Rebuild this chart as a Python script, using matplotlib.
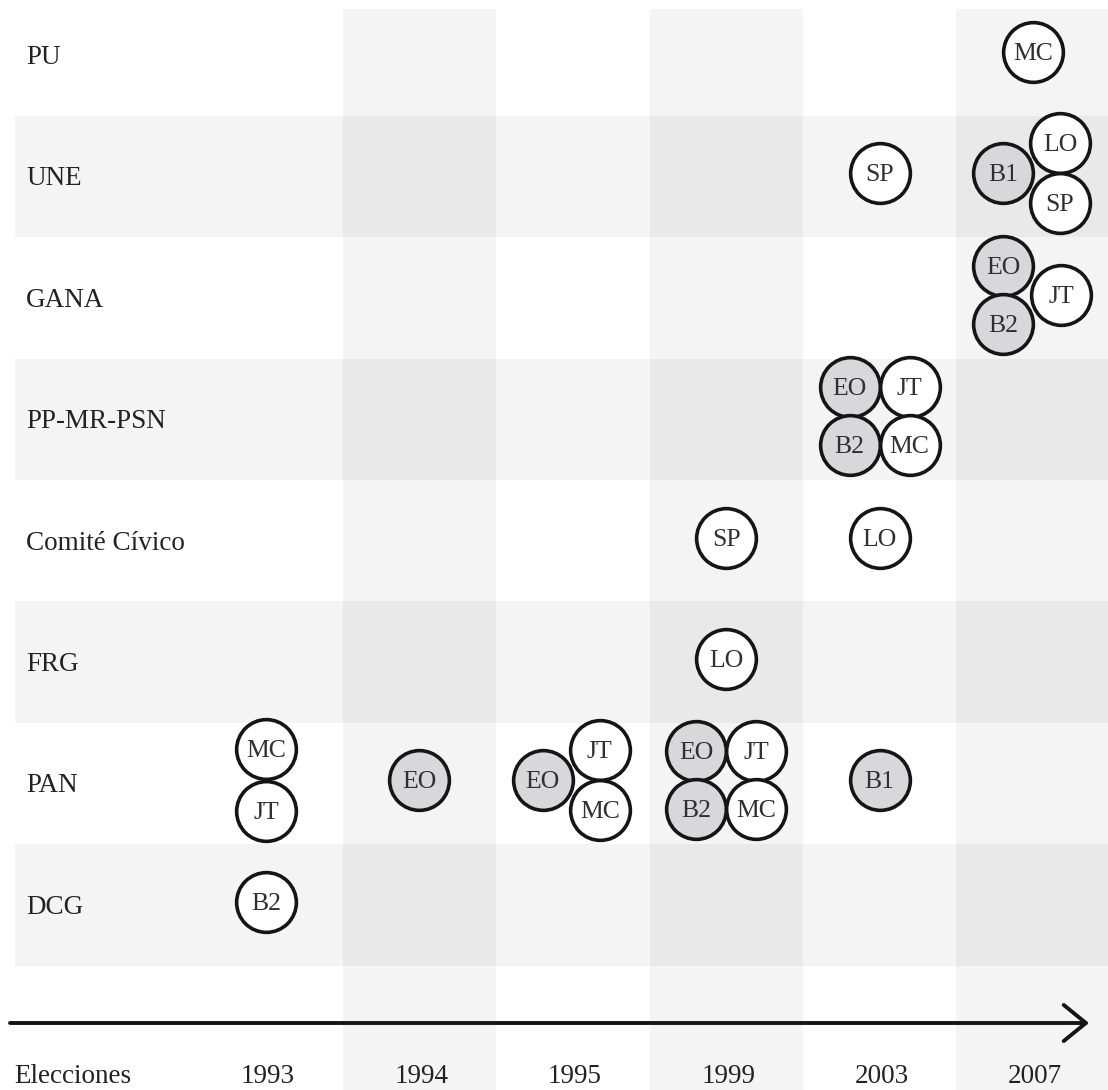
import matplotlib
matplotlib.use('Agg')
import matplotlib.pyplot as plt

# rows (top to bottom) and election columns
parties = ['PU', 'UNE', 'GANA', 'PP-MR-PSN', 'Comité Cívico', 'FRG', 'PAN', 'DCG']
years = ['1993', '1994', '1995', '1999', '2003', '2007']

# one entry per (party, year) cell: who sat there and whether the disc is shaded
cell_party = ['PU', 'UNE', 'UNE', 'GANA', 'PP-MR-PSN', 'Comité Cívico', 'Comité Cívico',
              'FRG', 'PAN', 'PAN', 'PAN', 'PAN', 'PAN', 'DCG']
cell_year = ['2007', '2003', '2007', '2007', '2003', '1999', '2003',
             '1999', '1993', '1994', '1995', '1999', '2003', '1993']
cell_codes = [['MC'], ['SP'], ['B1', 'LO', 'SP'], ['EO', 'B2', 'JT'], ['EO', 'JT', 'B2', 'MC'],
              ['SP'], ['LO'], ['LO'], ['MC', 'JT'], ['EO'], ['EO', 'JT', 'MC'],
              ['EO', 'JT', 'B2', 'MC'], ['B1'], ['B2']]
cell_shaded = [[0], [0], [1, 0, 0], [1, 1, 0], [1, 0, 1, 0],
               [0], [0], [0], [0, 0], [1], [1, 0, 0],
               [1, 0, 1, 0], [1], [0]]
# how discs are packed: single, vertical pair, one-left/two-right, two-left/one-right, 2x2
cell_layout = ['1', '1', 'L', 'R', '4', '1', '1', '1', '2', '1', 'L', '4', '1', '1']

layouts = {
    '1': [(0, 0)],
    '2': [(0, -31), (0, 31)],
    'L': [(-30, 0), (27, -30), (27, 30)],
    'R': [(-30, -29), (-30, 29), (28, 0)],
    '4': [(-30, -29), (30, -29), (-30, 29), (30, 29)],
}

W, H = 1108, 1090
col_x0, col_w = 266, 153.4
row_y0, row_h = 55, 121.4

fig = plt.figure(figsize=(W / 100, H / 100), dpi=100)
ax = fig.add_axes([0, 0, 1, 1])
ax.set_xlim(0, W)
ax.set_ylim(H, 0)
ax.axis('off')

serif = 'Liberation Serif'

# background shading: alternate columns and alternate rows
for i in range(len(years)):
    if i % 2 == 1:
        cx = col_x0 + i * col_w
        ax.axvspan(cx - col_w / 2, cx + col_w / 2, ymin=0, ymax=1 - 9 / H,
                   color='black', alpha=0.045, lw=0, zorder=0)
for j in range(len(parties)):
    if j % 2 == 1:
        cy = row_y0 + j * row_h
        ax.axhspan(cy - row_h / 2, cy + row_h / 2, xmin=15 / W, xmax=1,
                   color='black', alpha=0.045, lw=0, zorder=0)

# row labels
for j, p in enumerate(parties):
    ax.text(26, row_y0 + j * row_h + 9, p, fontsize=19.5, family=serif,
            color='#222222', va='baseline', ha='left')

# discs
for p, y, codes, shade, lay in zip(cell_party, cell_year, cell_codes, cell_shaded, cell_layout):
    cx = col_x0 + years.index(y) * col_w
    cy = row_y0 + parties.index(p) * row_h - 3
    for (dx, dy), code, s in zip(layouts[lay], codes, shade):
        ax.scatter(cx + dx, cy + dy, s=1850, marker='o',
                   facecolor='#d8d8da' if s else 'white',
                   edgecolor='#151515', linewidths=2.6, zorder=3)
        ax.text(cx + dx, cy + dy + 8, code, fontsize=18.5, family=serif,
                color='#303030', ha='center', va='baseline', zorder=4)

# time arrow
ax.annotate('', xy=(1089, 1023), xytext=(10, 1023),
            arrowprops=dict(arrowstyle='->,head_length=1.6,head_width=1.3',
                            color='#151515', lw=2.8, shrinkA=0, shrinkB=0))

# bottom axis labels
ax.text(14, 1083, 'Elecciones', fontsize=19.5, family=serif, color='#222222',
        ha='left', va='baseline')
for i, y in enumerate(years):
    ax.text(col_x0 + i * col_w + 2, 1083, y, fontsize=19.5, family=serif,
            color='#222222', ha='center', va='baseline')

plt.savefig('out.png', dpi=100)
